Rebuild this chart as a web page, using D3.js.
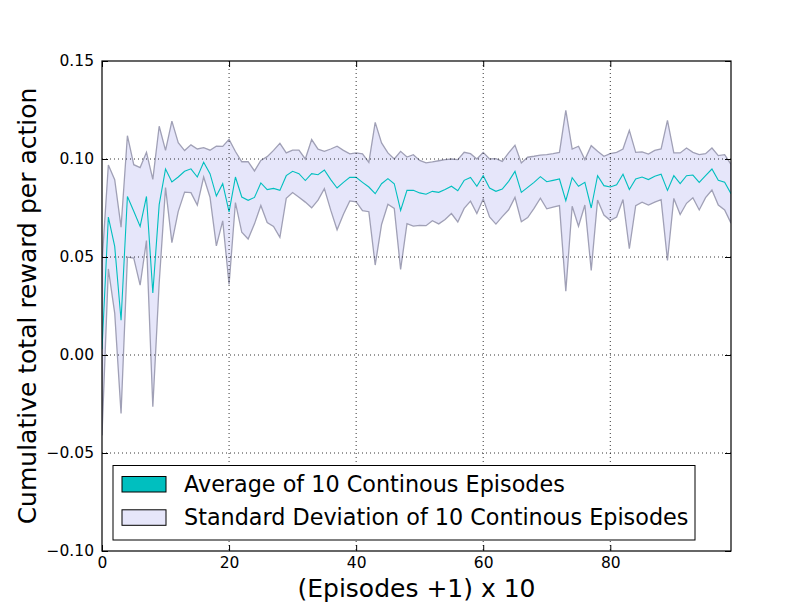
<!DOCTYPE html>
<html>
<head>
<meta charset="utf-8">
<script src="https://cdn.jsdelivr.net/npm/d3@7"></script>
<style>
  html, body { margin: 0; padding: 0; background: #fff; }
  svg { display: block; font-family: "DejaVu Sans", sans-serif; }
</style>
</head>
<body>
<svg id="chart" width="812" height="612"></svg>
<script>
'use strict';

// mean reward per action, one value per point (x = index)
var meanReward = [
  0.003, 0.0704, 0.0554, 0.0177, 0.0809, 0.0733, 0.0656, 0.0809, 0.0316, 0.0767,
  0.0949, 0.0883, 0.0908, 0.0937, 0.095, 0.0908, 0.0983, 0.0925, 0.0811, 0.0874,
  0.073, 0.0908, 0.0806, 0.0789, 0.0804, 0.0878, 0.0844, 0.085, 0.084, 0.0915,
  0.0937, 0.0925, 0.089, 0.0925, 0.092, 0.0944, 0.0895, 0.0852, 0.0881, 0.0906,
  0.0906, 0.0881, 0.0857, 0.0823, 0.0874, 0.09, 0.0874, 0.0738, 0.084, 0.084,
  0.0827, 0.082, 0.0835, 0.083, 0.0844, 0.0861, 0.0838, 0.0891, 0.0906, 0.0861,
  0.0915, 0.0852, 0.0835, 0.0847, 0.0886, 0.0937, 0.083, 0.0855, 0.0881, 0.091,
  0.0884, 0.0891, 0.0898, 0.0787, 0.0905, 0.0861, 0.0881, 0.075, 0.0915, 0.0864,
  0.0857, 0.0869, 0.0922, 0.0844, 0.0898, 0.0908, 0.0895, 0.0912, 0.0922, 0.084,
  0.0915, 0.0874, 0.0915, 0.0918, 0.0881, 0.0915, 0.0949, 0.0891, 0.0881, 0.0823
];

// standard deviation for each point
var stdReward = [
  0.044, 0.0265, 0.034, 0.0475, 0.031, 0.0238, 0.030, 0.0225, 0.058, 0.040,
  0.0095, 0.031, 0.0175, 0.0106, 0.0122, 0.0143, 0.0075, 0.012, 0.0254, 0.019,
  0.037, 0.013, 0.018, 0.0197, 0.0135, 0.0115, 0.0168, 0.0194, 0.024, 0.0116,
  0.0108, 0.012, 0.011, 0.0174, 0.013, 0.0095, 0.0156, 0.0213, 0.0163, 0.012,
  0.0125, 0.0145, 0.0126, 0.0364, 0.0208, 0.0131, 0.0126, 0.0301, 0.017, 0.0182,
  0.0166, 0.016, 0.015, 0.0161, 0.0153, 0.0139, 0.0159, 0.0143, 0.0121, 0.0139,
  0.0119, 0.0148, 0.0167, 0.0141, 0.0145, 0.0133, 0.015, 0.0154, 0.0133, 0.011,
  0.0138, 0.0136, 0.0136, 0.0461, 0.0146, 0.0204, 0.0116, 0.0318, 0.0124, 0.015,
  0.017, 0.0165, 0.0129, 0.0302, 0.0136, 0.0128, 0.013, 0.0132, 0.0129, 0.0357,
  0.0116, 0.0157, 0.0141, 0.0116, 0.0141, 0.0112, 0.0107, 0.0126, 0.0141, 0.015
];

var xTicks = [0, 20, 40, 60, 80];
var yTicks = [-0.10, -0.05, 0.00, 0.05, 0.10, 0.15];
var legendLabels = ['Average of 10 Continous Episodes', 'Standard Deviation of 10 Continous Episodes'];

var margin = {top: 61, right: 81, bottom: 61, left: 102},
    width = 812 - margin.left - margin.right,
    height = 612 - margin.top - margin.bottom;

var points = meanReward.map(function(m, i) {
    return {x: i, mean: m, std: stdReward[i]};
});

var x = d3.scaleLinear()
    .domain([0, meanReward.length - 1])
    .range([0, width]);

var y = d3.scaleLinear()
    .domain([-0.10, 0.15])
    .range([height, 0]);

var svg = d3.select('#chart');
var chart = svg.append('g')
    .attr('transform', 'translate(' + margin.left + ',' + margin.top + ')');

// clip for the plot area
chart.append('clipPath').attr('id', 'clip')
    .append('rect').attr('width', width).attr('height', height);

var plot = chart.append('g').attr('clip-path', 'url(#clip)');

// std band
var band = d3.area()
    .x(function(d) { return x(d.x); })
    .y0(function(d) { return y(d.mean - d.std); })
    .y1(function(d) { return y(d.mean + d.std); });

plot.append('path')
    .datum(points)
    .attr('d', band)
    .attr('fill', '#e6e6fa')
    .attr('stroke', '#a0a0b6')
    .attr('stroke-width', 1.3);

// grid
var grid = chart.append('g').attr('class', 'grid');
grid.selectAll('.vgrid')
    .data(xTicks.filter(function(t) { return t > 0; }))
    .enter().append('line')
    .attr('x1', function(d) { return x(d); })
    .attr('x2', function(d) { return x(d); })
    .attr('y1', 0).attr('y2', height);
grid.selectAll('.hgrid')
    .data(yTicks.filter(function(t) { return t > -0.1 && t < 0.15; }))
    .enter().append('line')
    .attr('y1', function(d) { return y(d); })
    .attr('y2', function(d) { return y(d); })
    .attr('x1', 0).attr('x2', width);
grid.selectAll('line')
    .attr('stroke', '#000')
    .attr('stroke-width', 0.8)
    .attr('stroke-dasharray', '1,3');

// mean line
var line = d3.line()
    .x(function(d) { return x(d.x); })
    .y(function(d) { return y(d.mean); });

plot.append('path')
    .datum(points)
    .attr('d', line)
    .attr('fill', 'none')
    .attr('stroke', '#00bfbf')
    .attr('stroke-width', 1.1);

// axes, ticks pointing inward on all four sides
function styleAxis(g) {
    g.select('.domain').remove();
    g.selectAll('.tick line').attr('stroke', '#000').attr('stroke-width', 1);
    g.selectAll('.tick text').attr('fill', '#000').style('font-size', '15.5px')
        .style('font-family', '"DejaVu Sans", sans-serif');
}

chart.append('g')
    .attr('transform', 'translate(0,' + height + ')')
    .call(d3.axisBottom(x).tickValues(xTicks).tickSizeInner(-6).tickSizeOuter(0)
        .tickPadding(6).tickFormat(d3.format('d')))
    .call(styleAxis);

chart.append('g')
    .call(d3.axisTop(x).tickValues(xTicks).tickSizeInner(-6).tickSizeOuter(0).tickFormat(''))
    .call(styleAxis);

chart.append('g')
    .call(d3.axisLeft(y).tickValues(yTicks).tickSizeInner(-6).tickSizeOuter(0)
        .tickPadding(8).tickFormat(d3.format('.2f')))
    .call(styleAxis);

chart.append('g')
    .attr('transform', 'translate(' + width + ',0)')
    .call(d3.axisRight(y).tickValues(yTicks).tickSizeInner(-6).tickSizeOuter(0).tickFormat(''))
    .call(styleAxis);

// frame
chart.append('rect')
    .attr('width', width).attr('height', height)
    .attr('fill', 'none').attr('stroke', '#000').attr('stroke-width', 1.2);

// axis labels
svg.append('text')
    .attr('x', margin.left + width / 2)
    .attr('y', 597)
    .attr('text-anchor', 'middle')
    .style('font-size', '25px')
    .text('(Episodes +1) x 10');

svg.append('text')
    .attr('transform', 'translate(36,' + (margin.top + height / 2) + ') rotate(-90)')
    .attr('text-anchor', 'middle')
    .style('font-size', '25px')
    .text('Cumulative total reward per action');

// legend
var legend = chart.append('g')
    .attr('transform', 'translate(11,' + (height - 85.5) + ')');

legend.append('rect')
    .attr('width', 582).attr('height', 74.5)
    .attr('fill', '#fff').attr('stroke', '#000').attr('stroke-width', 1);

var legendFills = ['#00bfbf', '#e6e6fa'];
var rows = legend.selectAll('.row')
    .data(legendLabels)
    .enter().append('g')
    .attr('transform', function(d, i) { return 'translate(0,' + (11 + i * 33.3) + ')'; });

rows.append('rect')
    .attr('x', 9).attr('y', 0)
    .attr('width', 44).attr('height', 15.5)
    .attr('fill', function(d, i) { return legendFills[i]; })
    .attr('stroke', '#000').attr('stroke-width', 1);

rows.append('text')
    .attr('x', 71).attr('y', 15.5)
    .style('font-size', '22.3px')
    .text(function(d) { return d; });
</script>
</body>
</html>
